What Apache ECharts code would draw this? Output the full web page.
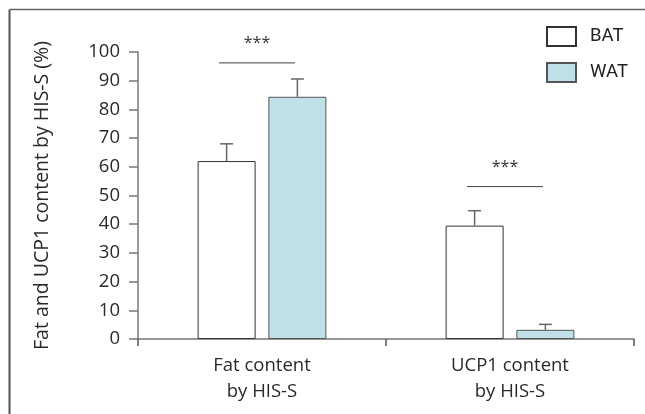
<!DOCTYPE html>
<html>
<head>
<meta charset="utf-8">
<script src="https://cdn.jsdelivr.net/npm/echarts@6/dist/echarts.min.js"></script>
<style>
  html, body { margin: 0; padding: 0; background: #fff; }
  #chart { width: 645px; height: 414px; }
</style>
</head>
<body>
<div id="chart"></div>
<script>
// Group labels along the x axis
const categories = ['Fat content\nby HIS-S', 'UCP1 content\nby HIS-S'];
// Means and standard deviations (%)
const batMean = [62, 39.5];
const batSD = [6, 5.2];
const watMean = [84.4, 3.2];
const watSD = [6.2, 1.9];
// Significance brackets: height (%) and label per group
const sigY = [96.2, 53.1];
const sigLabel = ['***', '***'];
// Y axis ticks
const yMin = 0, yMax = 100, yStep = 10;

const BAR_W = 58;
const BAR_GAP = 0.22;
const HALF = (BAR_W + BAR_W * BAR_GAP) / 2;
const FONT = '"Open Sans", "Noto Sans", sans-serif';
const AXIS_COLOR = '#777';

function errorRenderer(offset) {
  return function (params, api) {
    const base = api.coord([api.value(0), api.value(1)]);
    const top = api.coord([api.value(0), api.value(1) + api.value(2)]);
    const x = base[0] + offset;
    const style = { stroke: '#666', lineWidth: 1.5 };
    return {
      type: 'group',
      children: [
        { type: 'line', shape: { x1: x, y1: base[1], x2: x, y2: top[1] }, style },
        { type: 'line', shape: { x1: x - 6.5, y1: top[1], x2: x + 6.5, y2: top[1] }, style }
      ]
    };
  };
}

function sigRenderer(params, api) {
  const p = api.coord([api.value(0), api.value(1)]);
  const cx = p[0] - 5;
  return {
    type: 'group',
    children: [
      { type: 'line', shape: { x1: cx - 38, y1: p[1], x2: cx + 38, y2: p[1] },
        style: { stroke: '#444', lineWidth: 1 } },
      { type: 'text', style: {
          text: sigLabel[params.dataIndex], x: cx, y: p[1] - 19,
          align: 'center', verticalAlign: 'middle',
          fill: '#333', fontSize: 16, fontFamily: FONT } }
    ]
  };
}

const chart = echarts.init(document.getElementById('chart'), null, { renderer: 'canvas' });
chart.setOption({
  animation: false,
  backgroundColor: '#fff',
  textStyle: { fontFamily: FONT },
  graphic: [
    { type: 'line', shape: { x1: 9.5, y1: 9.5, x2: 645, y2: 9.5 }, style: { stroke: '#666', lineWidth: 1.5 } },
    { type: 'line', shape: { x1: 9.5, y1: 9.5, x2: 9.5, y2: 414 }, style: { stroke: '#555', lineWidth: 2 } }
  ],
  legend: {
    orient: 'vertical',
    left: 546, top: 26, padding: 0,
    itemWidth: 29, itemHeight: 19, itemGap: 15,
    icon: 'rect',
    data: ['BAT', 'WAT'],
    textStyle: {
      fontSize: 18.5, color: '#222', padding: [0, 0, 0, 9],
      fontFamily: 'Roboto, "Liberation Sans", sans-serif'
    }
  },
  grid: { left: 138, right: 11, top: 52, bottom: 75 },
  xAxis: {
    type: 'category',
    data: categories,
    axisLine: { lineStyle: { color: AXIS_COLOR, width: 1.5 } },
    axisTick: { show: true, length: 7, lineStyle: { color: '#555', width: 1.5 } },
    axisLabel: { color: '#2a2a2a', fontSize: 18.5, lineHeight: 26, margin: 14, fontFamily: FONT }
  },
  yAxis: {
    type: 'value',
    min: yMin, max: yMax, interval: yStep,
    name: 'Fat and UCP1 content by HIS-S (%)',
    nameLocation: 'middle',
    nameGap: 86,
    nameTextStyle: { color: '#2a2a2a', fontSize: 19.5, fontFamily: FONT },
    splitLine: { show: false },
    axisLine: { show: true, lineStyle: { color: AXIS_COLOR, width: 1.5 } },
    axisTick: { show: true, length: 9, lineStyle: { color: AXIS_COLOR, width: 1.5 } },
    axisLabel: { color: '#2a2a2a', fontSize: 18.5, margin: 18, fontFamily: FONT }
  },
  series: [
    {
      name: 'BAT', type: 'bar', data: batMean,
      barWidth: BAR_W, barGap: (BAR_GAP * 100) + '%',
      itemStyle: { color: '#ffffff', borderColor: '#333', borderWidth: 1 }
    },
    {
      name: 'WAT', type: 'bar', data: watMean,
      barWidth: BAR_W, barGap: (BAR_GAP * 100) + '%',
      itemStyle: { color: '#bfe0e6', borderColor: '#555', borderWidth: 1 }
    },
    {
      type: 'custom', name: 'BAT SD', z: 5,
      renderItem: errorRenderer(-HALF),
      data: batMean.map((m, i) => [i, m, batSD[i]])
    },
    {
      type: 'custom', name: 'WAT SD', z: 5,
      renderItem: errorRenderer(HALF),
      data: watMean.map((m, i) => [i, m, watSD[i]])
    },
    {
      type: 'custom', name: 'Significance', z: 5,
      renderItem: sigRenderer,
      data: sigY.map((y, i) => [i, y])
    }
  ]
});
</script>
</body>
</html>
